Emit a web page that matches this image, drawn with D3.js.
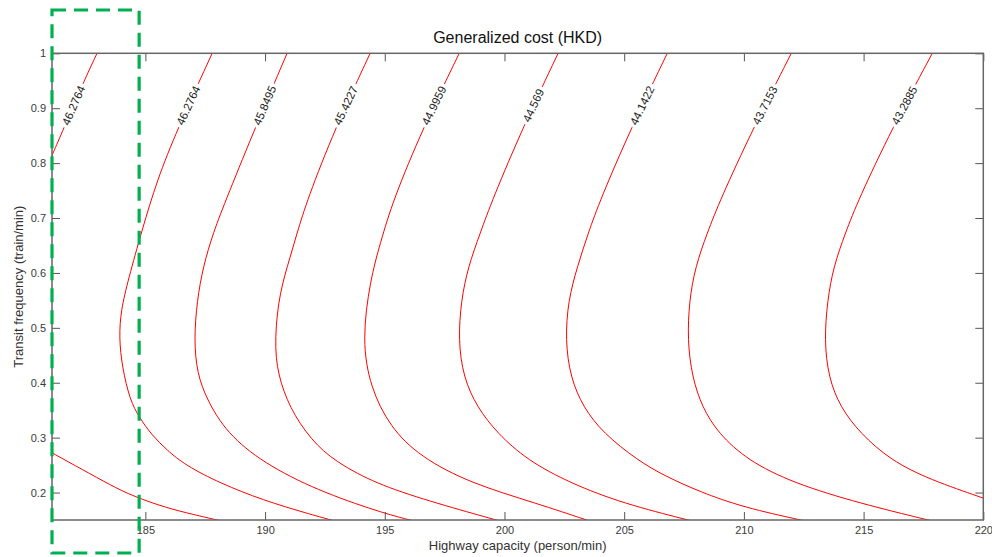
<!DOCTYPE html>
<html lang="en">
<head>
<meta charset="UTF-8">
<title>Generalized cost (HKD)</title>
<style>
  body { margin: 0; background: #fff; }
  svg { font-family: Arial, "Liberation Sans", sans-serif; }
  .tick text { fill: #3a3a3a; font-size: 11px; }
  .tick line { stroke: #555; stroke-width: 1; }
  .contour { fill: none; stroke: #ff0000; stroke-width: 1; }
  .clabel { font-size: 11.5px; fill: #222; }
</style>
</head>
<body>
<svg width="992" height="557"></svg>
<script src="https://d3js.org/d3.v7.min.js"></script>
<script>
// axis ticks
const xTicks = [185, 190, 195, 200, 205, 210, 215, 220];
const yTicks = [0.2, 0.3, 0.4, 0.5, 0.6, 0.7, 0.8, 0.9, 1];
const yTickLabels = ["0.2", "0.3", "0.4", "0.5", "0.6", "0.7", "0.8", "0.9", "1"];

// inline contour labels, as printed on the chart (left to right)
const levelLabels = ["46.2764", "46.2764", "45.8495", "45.4227", "44.9959",
                     "44.569", "44.1422", "43.7153", "43.2885"];

// contour lines: [highway capacity, transit frequency]
const contourA1 = [[182.98, 1.0], [182.40, 0.946], [181.56, 0.860], [181.14, 0.818], [180.72, 0.776]];
const contourA2 = [[180.5, 0.287], [181.15, 0.271], [182.41, 0.241], [183.52, 0.214], [184.50, 0.193],
                   [185.89, 0.172], [187.00, 0.160], [188.10, 0.149]];
const contourB = [[187.79, 1.0], [186.32, 0.860], [185.49, 0.769], [184.86, 0.678], [184.28, 0.587],
                  [183.98, 0.532], [183.90, 0.483], [184.03, 0.428], [184.36, 0.368], [184.74, 0.337],
                  [185.28, 0.304], [185.91, 0.277], [186.66, 0.250], [188.12, 0.217], [189.92, 0.186],
                  [191.76, 0.162], [192.84, 0.149]];
const contourC = [[190.92, 1.0], [189.67, 0.873], [188.41, 0.738], [187.83, 0.673], [187.41, 0.611],
                  [187.16, 0.550], [187.03, 0.478], [187.16, 0.417], [187.58, 0.368], [188.41, 0.308],
                  [189.92, 0.254], [192.17, 0.204], [194.81, 0.164], [196.14, 0.149]];
const contourD = [[194.39, 1.0], [192.93, 0.864], [191.76, 0.733], [191.34, 0.673], [190.92, 0.611],
                  [190.54, 0.550], [190.38, 0.459], [190.63, 0.399], [191.20, 0.340], [192.17, 0.283],
                  [193.26, 0.248], [194.81, 0.213], [197.19, 0.180], [199.74, 0.149]];
const contourE = [[198.11, 1.0], [196.60, 0.864], [195.35, 0.733], [194.81, 0.654], [194.39, 0.587],
                  [194.05, 0.478], [194.39, 0.392], [195.22, 0.319], [196.48, 0.265], [198.57, 0.217],
                  [201.37, 0.180], [203.50, 0.149]];
const contourF = [[202.24, 1.0], [200.78, 0.866], [199.49, 0.733], [198.99, 0.673], [198.48, 0.611],
                  [198.19, 0.550], [198.07, 0.478], [198.28, 0.410], [198.86, 0.355], [199.70, 0.308],
                  [200.95, 0.259], [202.75, 0.217], [204.96, 0.180], [207.76, 0.149]];
const contourG = [[206.80, 1.0], [205.25, 0.860], [204.00, 0.733], [203.50, 0.673], [203.04, 0.611],
                  [202.66, 0.550], [202.54, 0.478], [202.75, 0.410], [203.29, 0.355], [204.13, 0.308],
                  [205.55, 0.259], [206.70, 0.230], [208.18, 0.201], [209.98, 0.173], [212.48, 0.149]];
const contourH = [[211.98, 1.0], [210.35, 0.860], [209.01, 0.733], [208.47, 0.673], [207.97, 0.611],
                  [207.72, 0.550], [207.64, 0.478], [207.84, 0.410], [208.26, 0.355], [208.93, 0.308],
                  [210.14, 0.259], [212.07, 0.217], [214.87, 0.180], [217.79, 0.149]];
const contourI = [[217.87, 1.0], [216.20, 0.864], [214.78, 0.733], [214.24, 0.673], [213.74, 0.611],
                  [213.49, 0.550], [213.36, 0.478], [213.53, 0.410], [214.03, 0.355], [214.86, 0.308],
                  [216.12, 0.259], [217.79, 0.223], [220.01, 0.190], [220.6, 0.180]];

const labelFreq = 0.905;

const contours = [
    { pts: contourA1, label: levelLabels[0] },
    { pts: contourA2 },
    { pts: contourB, label: levelLabels[1] },
    { pts: contourC, label: levelLabels[2] },
    { pts: contourD, label: levelLabels[3] },
    { pts: contourE, label: levelLabels[4] },
    { pts: contourF, label: levelLabels[5] },
    { pts: contourG, label: levelLabels[6] },
    { pts: contourH, label: levelLabels[7] },
    { pts: contourI, label: levelLabels[8] }
];

const svg = d3.select("svg");
const plotL = 52, plotR = 983.3, plotT = 53.3, plotB = 520;

const x = d3.scaleLinear().domain([181.1, 220]).range([plotL, plotR]);
const y = d3.scaleLinear().domain([0.15, 1]).range([plotB, plotT]);

svg.append("defs").append("clipPath").attr("id", "plot")
    .append("rect")
    .attr("x", plotL).attr("y", plotT)
    .attr("width", plotR - plotL).attr("height", plotB - plotT);

// contour lines (b-spline smooths the hand-read points)
const line = d3.line()
    .x(d => x(d[0]))
    .y(d => y(d[1]))
    .curve(d3.curveBasis);

const plot = svg.append("g").attr("clip-path", "url(#plot)");

plot.selectAll(".contour")
    .data(contours)
    .enter().append("path")
    .attr("class", "contour")
    .attr("d", d => line(d.pts));

// inline labels on the upper branch of each contour
contours.filter(d => d.label).forEach(d => {
    const p = d.pts;
    let i = 0;
    while (i < p.length - 2 && p[i + 1][1] > labelFreq) i++;
    const a = p[i], b = p[i + 1];
    const t = (labelFreq - a[1]) / (b[1] - a[1]);
    const cx = x(a[0] + t * (b[0] - a[0]));
    const cy = y(labelFreq);
    // text direction: from lower point to upper point
    const ang = Math.atan2(y(a[1]) - y(b[1]), x(a[0]) - x(b[0])) * 180 / Math.PI;

    const g = plot.append("g")
        .attr("transform", `translate(${cx},${cy}) rotate(${ang})`);
    const txt = g.append("text")
        .attr("class", "clabel")
        .attr("text-anchor", "middle")
        .attr("dy", "0.35em")
        .text(d.label);
    const w = txt.node().getComputedTextLength();
    g.insert("rect", "text")
        .attr("x", -w / 2 - 3).attr("y", -6)
        .attr("width", w + 6).attr("height", 12)
        .attr("fill", "#fff");
});

// axes, ticks pointing inward on all four sides
svg.append("g")
    .attr("transform", `translate(0,${plotB})`)
    .call(d3.axisBottom(x).tickValues(xTicks).tickSizeInner(-8).tickSizeOuter(0).tickPadding(6))
    .call(g => g.select(".domain").remove());

svg.append("g")
    .attr("transform", `translate(0,${plotT})`)
    .call(d3.axisTop(x).tickValues(xTicks).tickSizeInner(-8).tickSizeOuter(0).tickFormat(""))
    .call(g => g.select(".domain").remove());

svg.append("g")
    .attr("transform", `translate(${plotL},0)`)
    .call(d3.axisLeft(y).tickValues(yTicks).tickSizeInner(-8).tickSizeOuter(0).tickPadding(6)
        .tickFormat((d, i) => yTickLabels[i]))
    .call(g => g.select(".domain").remove());

svg.append("g")
    .attr("transform", `translate(${plotR},0)`)
    .call(d3.axisRight(y).tickValues(yTicks).tickSizeInner(-8).tickSizeOuter(0).tickFormat(""))
    .call(g => g.select(".domain").remove());

svg.selectAll(".tick text").attr("font-family", null).attr("font-size", null);

// axes box
svg.append("rect")
    .attr("x", plotL).attr("y", plotT)
    .attr("width", plotR - plotL).attr("height", plotB - plotT)
    .attr("fill", "none")
    .attr("stroke", "#666")
    .attr("stroke-width", 1.5);

// titles
svg.append("text")
    .attr("x", (plotL + plotR) / 2).attr("y", 43)
    .attr("text-anchor", "middle")
    .style("font-size", "16px")
    .style("fill", "#111")
    .text("Generalized cost (HKD)");

svg.append("text")
    .attr("x", (plotL + plotR) / 2).attr("y", 550)
    .attr("text-anchor", "middle")
    .style("font-size", "13px")
    .style("fill", "#333")
    .text("Highway capacity (person/min)");

svg.append("text")
    .attr("transform", `translate(23,${(plotT + plotB) / 2}) rotate(-90)`)
    .attr("text-anchor", "middle")
    .style("font-size", "13px")
    .style("fill", "#333")
    .text("Transit frequency (train/min)");

// green dashed highlight box
svg.append("rect")
    .attr("x", plotL).attr("y", 10)
    .attr("width", x(184.74) - plotL).attr("height", 543)
    .attr("fill", "none")
    .attr("stroke", "#00b050")
    .attr("stroke-width", 3.2)
    .attr("stroke-dasharray", "14,8");
</script>
</body>
</html>
